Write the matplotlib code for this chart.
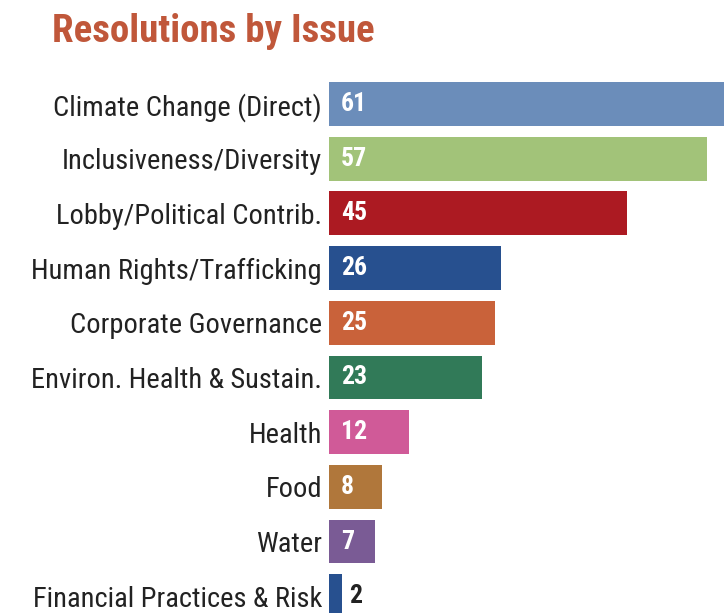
import matplotlib
matplotlib.use("Agg")
import matplotlib.pyplot as plt
from matplotlib import font_manager

issues = [
    "Climate Change (Direct)",
    "Inclusiveness/Diversity",
    "Lobby/Political Contrib.",
    "Human Rights/Trafficking",
    "Corporate Governance",
    "Environ. Health & Sustain.",
    "Health",
    "Food",
    "Water",
    "Financial Practices & Risk",
]
counts = [61, 57, 45, 26, 25, 23, 12, 8, 7, 2]
bar_colors = [
    "#6b8dba", "#a2c379", "#ac1a22", "#27508f", "#c9623a",
    "#317a58", "#d05a98", "#b0773b", "#7a5b95", "#27508f",
]
title_color = "#c0573a"

# pick a condensed sans face if one is installed
installed = {f.name for f in font_manager.fontManager.ttflist}
family = "DejaVu Sans"
for cand in ["Roboto Condensed", "Archivo Narrow", "PT Sans Narrow",
             "Liberation Sans Narrow", "Open Sans Condensed", "Barlow Condensed"]:
    if cand in installed:
        family = cand
        break

W, H = 724, 613
fig = plt.figure(figsize=(W / 100, H / 100), dpi=100)

# axes placed in pixel terms; right and bottom run to the figure edge
left_px, top_px = 329, 76.6
row_px = 54.7
ax = fig.add_axes([left_px / W, 0, 1 - left_px / W, (H - top_px) / H])
ymax = (H - 104) / row_px
ax.set_ylim(ymax, -0.5)
px_per_unit = (707 - 329) / 57
ax.set_xlim(0, (W - left_px) / px_per_unit)

ypos = list(range(len(issues)))
ax.barh(ypos, counts, height=0.8, color=bar_colors, edgecolor="none")

for y, v in zip(ypos, counts):
    inside = v >= 5
    ax.text(1.8 if inside else v + 1.0, y, str(v),
            color="white" if inside else "#222222", fontsize=18.5,
            fontweight="bold", family=family, va="center", ha="left")

ax.set_yticks(ypos)
ax.set_yticklabels(issues, family=family, fontsize=20.5, color="#222222")
ax.tick_params(axis="y", length=0, pad=5)
ax.tick_params(axis="x", bottom=False, labelbottom=False)
for s in ax.spines.values():
    s.set_visible(False)

fig.text(52 / W, 1 - 31 / H, "Resolutions by Issue", color=title_color,
         fontsize=28, fontweight="bold", family=family, va="center", ha="left")

fig.savefig("out.png", dpi=100)
